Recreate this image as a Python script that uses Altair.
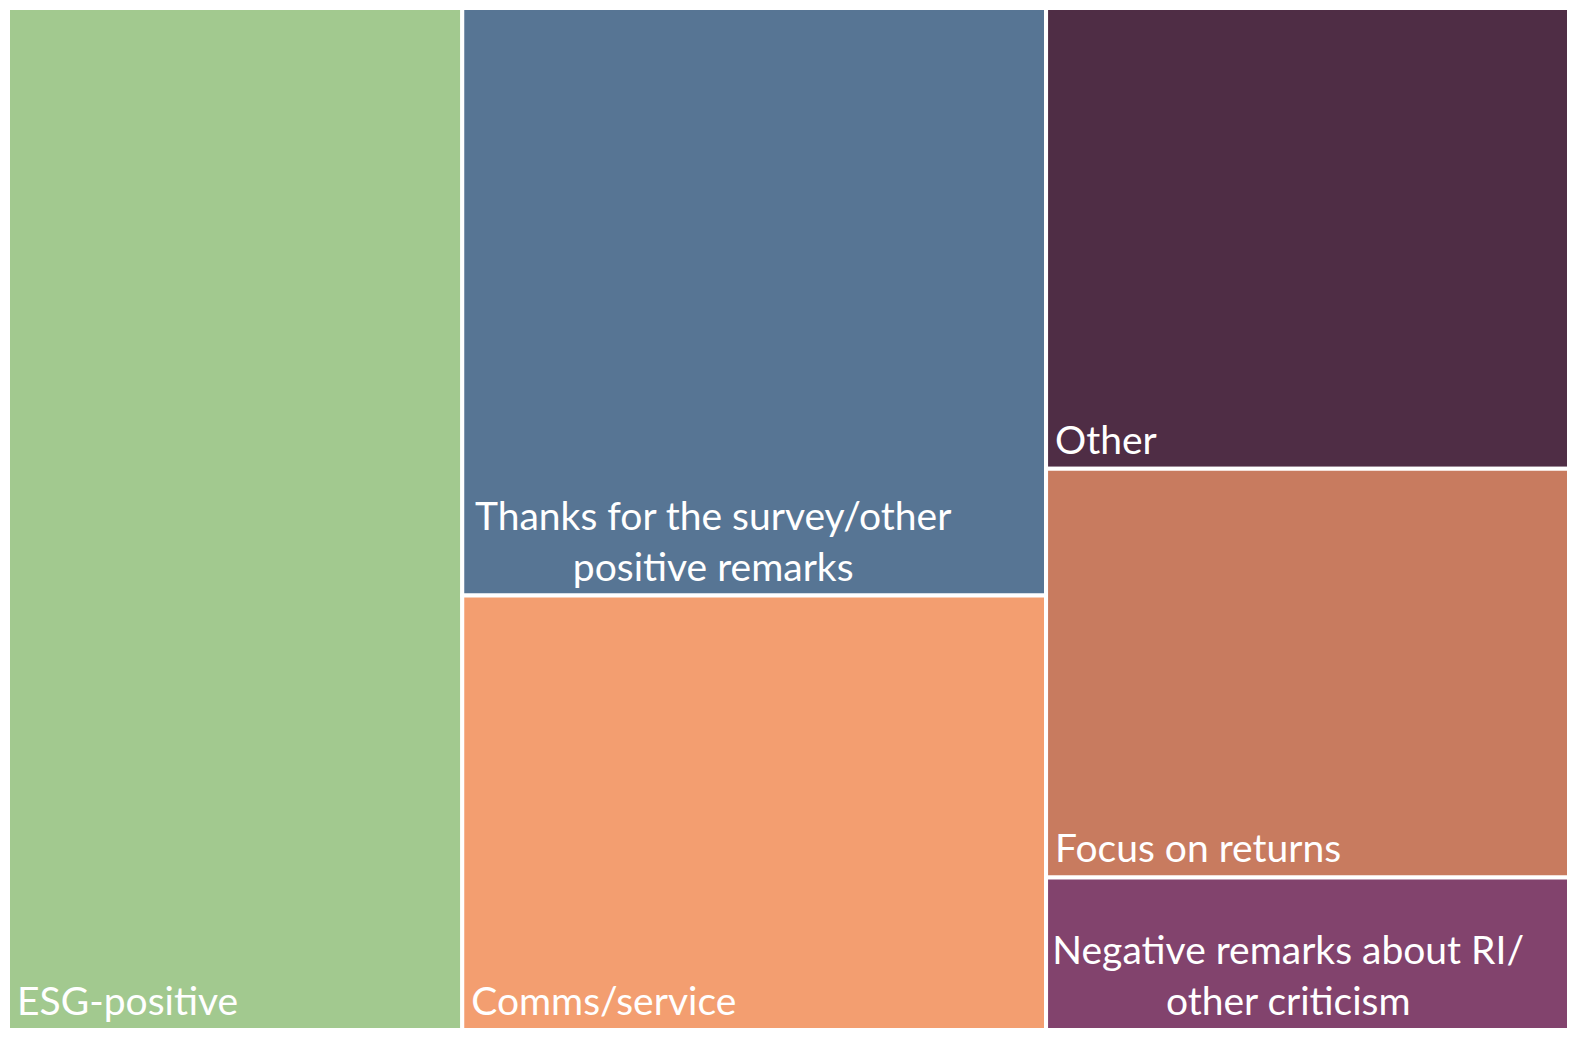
import altair as alt
import pandas as pd

# ---- data ----
categories = [
    "ESG-positive",
    "Thanks for the survey/other positive remarks",
    "Comms/service",
    "Other",
    "Focus on returns",
    "Negative remarks about RI/ other criticism",
]
values = [29.1, 21.5, 15.9, 15.1, 13.4, 5.0]
columns = [0, 1, 1, 2, 2, 2]
label_lines = [
    ["ESG-positive"],
    ["Thanks for the survey/other", "positive remarks"],
    ["Comms/service"],
    ["Other"],
    ["Focus on returns"],
    ["Negative remarks about RI/", "other criticism"],
]
colors = ["#A2C98F", "#577594", "#F39E70", "#4F2D45", "#C87B5F", "#82436D"]

W, H = 1561, 1022
FONT = "Lato"
FS = 39
LH = 51
PAD = 9
PAD_MULTI = 14
CHAR_EM = 0.45

# ---- treemap layout (column slices) ----
df = pd.DataFrame({"cat": categories, "value": values, "col": columns})
total = df["value"].sum()
col_tot = df.groupby("col")["value"].sum()
col_x0 = col_tot.cumsum() - col_tot
df["x0"] = df["col"].map(col_x0)
df["x1"] = df["x0"] + df["col"].map(col_tot)
df["cum"] = df.groupby("col")["value"].cumsum()
df["y1"] = df["cum"] / df["col"].map(col_tot)
df["y0"] = df["y1"] - df["value"] / df["col"].map(col_tot)
df["lines"] = label_lines
df["multi"] = [len(l) > 1 for l in label_lines]
est_w = [max(len(s) for s in l) * CHAR_EM * FS for l in label_lines]
df["lx_left"] = df["x0"] + PAD * total / W
df["lx_center"] = df["x0"] + (PAD_MULTI + pd.Series(est_w) / 2) * total / W

xs = alt.Scale(domain=[0, total], nice=False, zero=False)
ys = alt.Scale(domain=[0, 1], nice=False, zero=False, reverse=True)
cs = alt.Scale(domain=categories, range=colors)

base = alt.Chart(df)
rects = base.mark_rect(stroke="white", strokeWidth=4).encode(
    x=alt.X("x0:Q", scale=xs, axis=None),
    x2="x1:Q",
    y=alt.Y("y0:Q", scale=ys, axis=None),
    y2="y1:Q",
    color=alt.Color("cat:N", scale=cs, legend=None),
    tooltip=["cat:N", "value:Q"],
)
text_kw = dict(font=FONT, fontSize=FS, color="white", baseline="bottom", lineHeight=LH)
single = base.transform_filter("!datum.multi").mark_text(align="left", dy=-7, **text_kw).encode(
    x=alt.X("lx_left:Q", scale=xs, axis=None),
    y=alt.Y("y1:Q", scale=ys, axis=None),
    text="lines",
)
multi = base.transform_filter("datum.multi").mark_text(align="center", dy=-7 - LH, **text_kw).encode(
    x=alt.X("lx_center:Q", scale=xs, axis=None),
    y=alt.Y("y1:Q", scale=ys, axis=None),
    text="lines",
)

chart = alt.layer(rects, single, multi).properties(
    width=W, height=H, padding=0, autosize=alt.AutoSizeParams(type="none")
).configure_view(stroke=None)

chart.save("out.html", embed_options={"renderer": "svg", "actions": False})
